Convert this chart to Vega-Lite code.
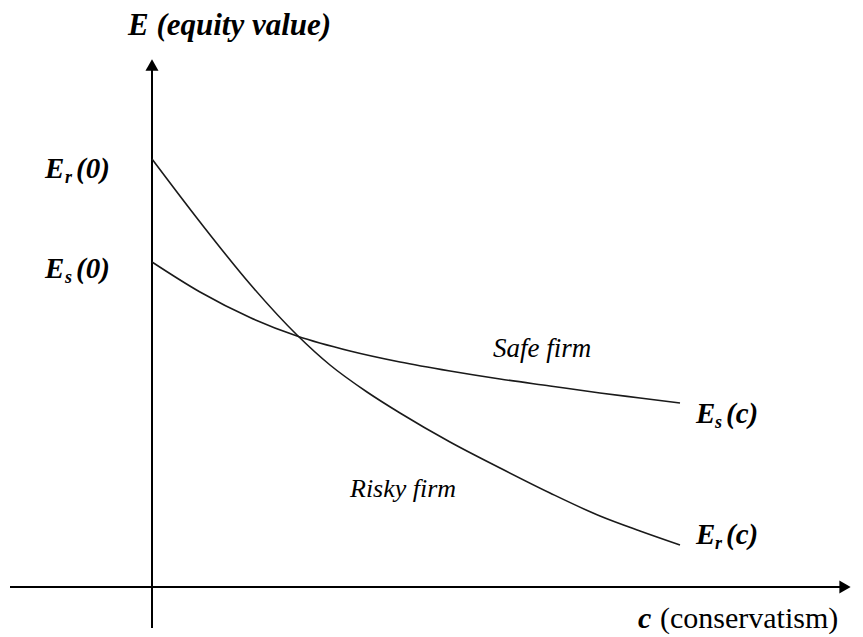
{
  "$schema": "https://vega.github.io/schema/vega-lite/v6.json",
  "width": 863,
  "height": 637,
  "padding": 0,
  "autosize": {"type": "none"},
  "background": "white",
  "view": {"stroke": null},
  "datasets": {
    "curves": [
      {"firm": "Risky", "c": 0, "E": 428},
      {"firm": "Risky", "c": 48, "E": 365},
      {"firm": "Risky", "c": 98, "E": 303},
      {"firm": "Risky", "c": 145, "E": 252},
      {"firm": "Risky", "c": 178, "E": 222},
      {"firm": "Risky", "c": 215, "E": 195},
      {"firm": "Risky", "c": 248, "E": 174},
      {"firm": "Risky", "c": 298, "E": 145},
      {"firm": "Risky", "c": 348, "E": 119},
      {"firm": "Risky", "c": 398, "E": 94},
      {"firm": "Risky", "c": 448, "E": 71},
      {"firm": "Risky", "c": 488, "E": 56},
      {"firm": "Risky", "c": 528, "E": 42},
      {"firm": "Safe", "c": 0, "E": 325},
      {"firm": "Safe", "c": 48, "E": 295},
      {"firm": "Safe", "c": 98, "E": 269.5},
      {"firm": "Safe", "c": 145, "E": 251},
      {"firm": "Safe", "c": 198, "E": 236},
      {"firm": "Safe", "c": 248, "E": 225},
      {"firm": "Safe", "c": 298, "E": 216},
      {"firm": "Safe", "c": 348, "E": 208},
      {"firm": "Safe", "c": 398, "E": 201},
      {"firm": "Safe", "c": 448, "E": 194},
      {"firm": "Safe", "c": 488, "E": 189},
      {"firm": "Safe", "c": 528, "E": 184}
    ],
    "axes": [
      {"c": 0, "E": -41, "c2": 0, "E2": 518},
      {"c": -142, "E": 0, "c2": 690, "E2": 0}
    ],
    "arrowUp": [{"c": 0, "E": 522}],
    "arrowRight": [{"c": 693, "E": 0}],
    "titleText": [
      {"c": -24, "E": 552, "t": "E (equity value)"}
    ],
    "bigText": [
      {"c": -107, "E": 409, "t": "E"},
      {"c": -76, "E": 409, "t": "(0)"},
      {"c": -107, "E": 309, "t": "E"},
      {"c": -76, "E": 309, "t": "(0)"},
      {"c": 544, "E": 164, "t": "E"},
      {"c": 574, "E": 164, "t": "(c)"},
      {"c": 544, "E": 43, "t": "E"},
      {"c": 574, "E": 43, "t": "(c)"}
    ],
    "cText": [
      {"c": 486, "E": -41, "t": "c"}
    ],
    "subText": [
      {"c": -87, "E": 404, "t": "r"},
      {"c": -87, "E": 304, "t": "s"},
      {"c": 563, "E": 159, "t": "s"},
      {"c": 563, "E": 38, "t": "r"}
    ],
    "plainText": [
      {"c": 508, "E": -41, "t": "(conservatism)"}
    ],
    "safeText": [
      {"c": 341, "E": 230, "t": "Safe firm"}
    ],
    "riskyText": [
      {"c": 198, "E": 90, "t": "Risky firm"}
    ]
  },
  "layer": [
    {
      "data": {"name": "axes"},
      "mark": {"type": "rule", "color": "black", "strokeWidth": 2},
      "encoding": {
        "x": {"field": "c", "type": "quantitative", "scale": {"domain": [-152, 711], "nice": false, "zero": false}, "axis": null},
        "y": {"field": "E", "type": "quantitative", "scale": {"domain": [-50, 587], "nice": false, "zero": false}, "axis": null},
        "x2": {"field": "c2"},
        "y2": {"field": "E2"}
      }
    },
    {
      "data": {"name": "arrowUp"},
      "mark": {"type": "point", "shape": "triangle-up", "filled": true, "color": "black", "size": 170, "opacity": 1},
      "encoding": {
        "x": {"field": "c", "type": "quantitative"},
        "y": {"field": "E", "type": "quantitative"}
      }
    },
    {
      "data": {"name": "arrowRight"},
      "mark": {"type": "point", "shape": "triangle-right", "filled": true, "color": "black", "size": 170, "opacity": 1},
      "encoding": {
        "x": {"field": "c", "type": "quantitative"},
        "y": {"field": "E", "type": "quantitative"}
      }
    },
    {
      "data": {"name": "curves"},
      "mark": {"type": "line", "color": "#1a1a1a", "strokeWidth": 1.6, "interpolate": "monotone"},
      "encoding": {
        "x": {"field": "c", "type": "quantitative"},
        "y": {"field": "E", "type": "quantitative"},
        "detail": {"field": "firm"}
      }
    },
    {
      "data": {"name": "titleText"},
      "mark": {"type": "text", "font": "'Liberation Serif', 'Times New Roman', Times, serif", "align": "left", "baseline": "alphabetic", "color": "black", "fontSize": 31, "fontWeight": "bold", "fontStyle": "italic"},
      "encoding": {
        "x": {"field": "c", "type": "quantitative"},
        "y": {"field": "E", "type": "quantitative"},
        "text": {"field": "t"}
      }
    },
    {
      "data": {"name": "bigText"},
      "mark": {"type": "text", "font": "'Liberation Serif', 'Times New Roman', Times, serif", "align": "left", "baseline": "alphabetic", "color": "black", "fontSize": 29, "fontWeight": "bold", "fontStyle": "italic"},
      "encoding": {
        "x": {"field": "c", "type": "quantitative"},
        "y": {"field": "E", "type": "quantitative"},
        "text": {"field": "t"}
      }
    },
    {
      "data": {"name": "cText"},
      "mark": {"type": "text", "font": "'Liberation Serif', 'Times New Roman', Times, serif", "align": "left", "baseline": "alphabetic", "color": "black", "fontSize": 30, "fontWeight": "bold", "fontStyle": "italic"},
      "encoding": {
        "x": {"field": "c", "type": "quantitative"},
        "y": {"field": "E", "type": "quantitative"},
        "text": {"field": "t"}
      }
    },
    {
      "data": {"name": "subText"},
      "mark": {"type": "text", "font": "'Liberation Serif', 'Times New Roman', Times, serif", "align": "left", "baseline": "alphabetic", "color": "black", "fontSize": 18, "fontWeight": "bold", "fontStyle": "italic"},
      "encoding": {
        "x": {"field": "c", "type": "quantitative"},
        "y": {"field": "E", "type": "quantitative"},
        "text": {"field": "t"}
      }
    },
    {
      "data": {"name": "plainText"},
      "mark": {"type": "text", "font": "'Liberation Serif', 'Times New Roman', Times, serif", "align": "left", "baseline": "alphabetic", "color": "black", "fontSize": 30},
      "encoding": {
        "x": {"field": "c", "type": "quantitative"},
        "y": {"field": "E", "type": "quantitative"},
        "text": {"field": "t"}
      }
    },
    {
      "data": {"name": "safeText"},
      "mark": {"type": "text", "font": "'Liberation Serif', 'Times New Roman', Times, serif", "align": "left", "baseline": "alphabetic", "color": "black", "fontSize": 27, "fontStyle": "italic"},
      "encoding": {
        "x": {"field": "c", "type": "quantitative"},
        "y": {"field": "E", "type": "quantitative"},
        "text": {"field": "t"}
      }
    },
    {
      "data": {"name": "riskyText"},
      "mark": {"type": "text", "font": "'Liberation Serif', 'Times New Roman', Times, serif", "align": "left", "baseline": "alphabetic", "color": "black", "fontSize": 26, "fontStyle": "italic"},
      "encoding": {
        "x": {"field": "c", "type": "quantitative"},
        "y": {"field": "E", "type": "quantitative"},
        "text": {"field": "t"}
      }
    }
  ]
}
